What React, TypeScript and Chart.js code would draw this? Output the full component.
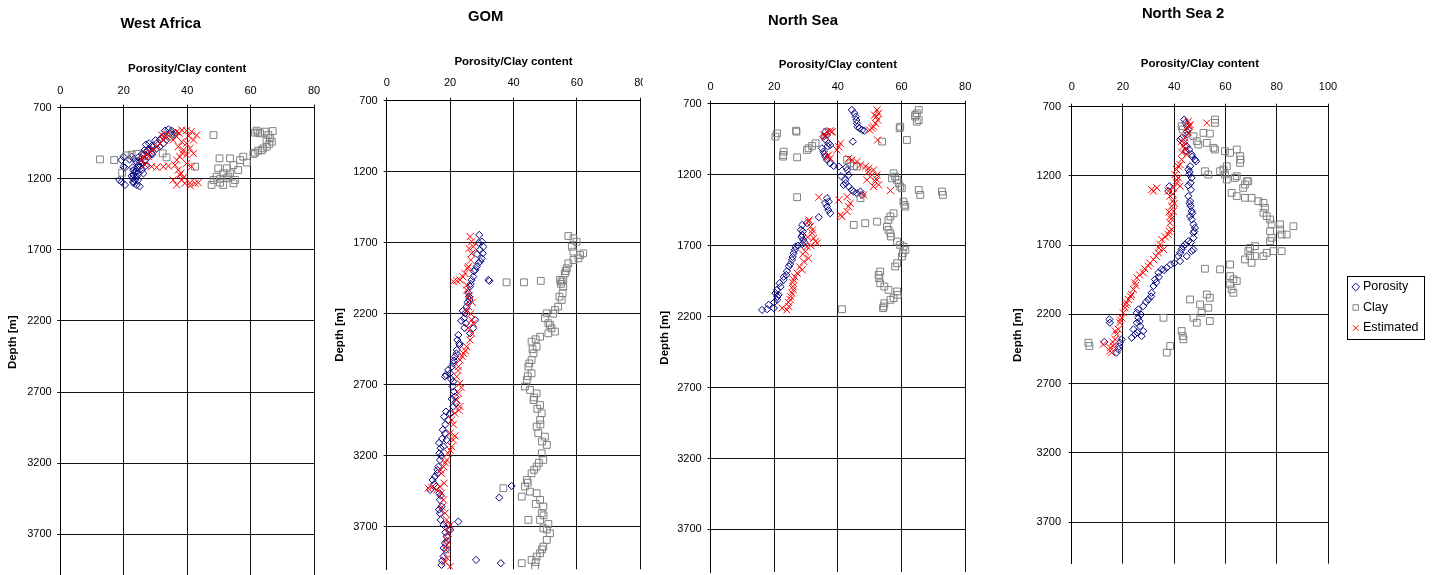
import React, { useEffect, useRef } from 'react';
import { Chart, registerables } from 'chart.js';

Chart.register(...registerables);
Chart.defaults.font.family = "'Liberation Sans', Arial, sans-serif";
Chart.defaults.color = '#000';

type Pt = [number, number]; // [porosity/clay %, depth m]

// ---------- text / ticks ----------
const CHART_TITLES = ['West Africa', 'GOM', 'North Sea', 'North Sea 2'];
const SERIES_NAMES = ['Porosity', 'Clay', 'Estimated'];
const X_AXIS_TITLE = 'Porosity/Clay content';
const Y_AXIS_TITLE = 'Depth [m]';
const X_TICKS_80 = [0, 20, 40, 60, 80];
const X_TICKS_100 = [0, 20, 40, 60, 80, 100];
const DEPTH_TICKS = [700, 1200, 1700, 2200, 2700, 3200, 3700];
const DEPTH_MIN = 700;
const DEPTH_MAX = 4000;

// ---------- West Africa ----------
const westAfricaPorosity: Pt[] = [
  [33.0, 862], [34.1, 853], [35.1, 862], [36.2, 876], [35.6, 893], [34.6, 881],
  [32.5, 905], [31.4, 928], [30.4, 952], [29.3, 975], [28.3, 991], [27.2, 1010], [26.2, 1033], [25.6, 1057],
  [25.1, 1080], [24.6, 1104], [24.1, 1127], [23.6, 1151], [23.1, 1174], [22.8, 1198], [23.1, 1221], [24.1, 1244],
  [33.5, 928], [32.5, 952], [31.4, 975], [30.4, 987], [28.8, 1022], [27.8, 1045], [26.7, 1069], [25.7, 1092],
  [25.1, 1116], [24.6, 1163], [24.1, 1186], [23.6, 1209],
  [19.9, 1045], [19.3, 1069], [19.9, 1116], [20.4, 1123], [19.3, 1221], [20.4, 1244], [18.6, 1209], [22.5, 1045],
  [21.8, 1064], [26.2, 1163], [25.7, 1139],
  [27.0, 960], [28.0, 950], [26.5, 1000], [24.5, 1050], [23.2, 1060], [29.0, 1030], [22.8, 1120], [27.0, 1110],
  [22.5, 1180], [24.5, 1210], [25.0, 1254], [31.8, 915], [30.0, 930], [28.8, 970], [27.6, 1000], [25.8, 1025],
  [24.0, 1080], [23.0, 1140], [24.0, 1150], [23.0, 1230],
];
const westAfricaClay: Pt[] = [
  [12.5, 1064], [17.0, 1069], [20.9, 1036], [22.5, 1031], [24.1, 1026], [19.5, 1158], [32.3, 1022], [33.5, 1050],
  [42.5, 1115], [48.3, 893], [35.6, 881], [34.6, 904],
  [61.9, 862], [63.0, 881], [64.5, 869], [67.0, 865], [65.6, 893], [66.1, 916], [66.7, 940], [65.9, 956],
  [65.1, 975], [64.0, 987], [62.4, 1003], [61.4, 1017], [60.9, 1026], [62.4, 876], [61.4, 876], [63.5, 1000], [65.0, 930],
  [50.2, 1057], [53.5, 1057], [57.7, 1045], [56.7, 1069], [58.8, 1087], [54.6, 1104], [52.5, 1127], [49.8, 1127],
  [56.1, 1139], [51.4, 1162], [53.5, 1162], [49.3, 1186], [48.3, 1209], [50.4, 1228], [47.7, 1244], [51.4, 1244],
  [54.6, 1233], [55.1, 1209], [52.5, 1197], [50.5, 1200], [53.0, 1185],
];
const westAfricaEstimated: Pt[] = [
  [26.2, 1045], [27.2, 1026], [28.3, 1010], [29.3, 994], [30.4, 975], [31.4, 952], [32.5, 928], [33.0, 904],
  [33.5, 886], [32.0, 893], [27.8, 1045], [25.7, 1069], [26.7, 1104], [28.8, 1115], [30.4, 1120], [32.5, 1115], [34.1, 1111],
  [36.7, 869], [38.3, 857], [39.8, 862], [41.4, 869], [43.0, 893], [42.0, 928], [39.8, 951], [38.3, 940],
  [36.7, 904], [35.6, 928], [37.2, 975], [38.8, 998], [40.9, 987], [42.0, 1022], [39.8, 1033], [37.7, 1045],
  [36.7, 1069], [36.2, 1104], [37.2, 1139], [37.7, 1174], [38.3, 1209], [39.3, 1233], [40.9, 1228], [42.5, 1233],
  [43.5, 1228], [36.7, 1244], [35.6, 1209], [41.4, 1115], [39.8, 1092], [38.0, 1160], [39.0, 1190], [41.0, 1250],
  [38.5, 1020], [40.5, 900], [37.5, 880],
];

// ---------- GOM ----------
const gomPorosity: Pt[] = [
  [29.2, 1645], [30.0, 1692], [30.5, 1728], [29.4, 1751], [30.3, 1775], [30.0, 1810], [28.9, 1845], [28.4, 1868],
  [27.9, 1892], [27.3, 1939], [26.8, 1962], [32.4, 1969], [32.1, 1962], [26.3, 2009], [25.8, 2056], [26.1, 2103],
  [25.2, 2150], [24.7, 2197], [24.4, 2232], [25.0, 2267], [27.9, 2244], [27.3, 2303], [26.3, 2338], [22.6, 2350],
  [22.3, 2385], [22.9, 2408], [22.1, 2455], [21.5, 2502], [21.0, 2549], [20.5, 2573], [19.4, 2596], [18.7, 2631],
  [18.4, 2643], [21.0, 2678], [20.8, 2713], [21.2, 2748], [21.5, 2784], [21.9, 2831], [21.0, 2854], [20.0, 2901],
  [18.7, 2889], [18.1, 2925], [17.7, 3018], [18.4, 3042], [18.9, 3089], [17.9, 3136], [17.0, 3147], [16.6, 3183],
  [16.8, 3230], [16.3, 3277], [16.0, 3324], [15.2, 3347], [14.5, 3371], [13.7, 3441], [15.6, 3417], [16.6, 3464],
  [16.8, 3511], [17.3, 3558], [16.8, 3605], [17.0, 3652], [17.9, 3687], [19.4, 3687], [22.6, 3664], [20.0, 3723],
  [18.9, 3769], [18.4, 3816], [18.7, 3863], [17.9, 3910], [17.3, 3969], [28.2, 3934], [36.0, 3957], [35.5, 3495], [39.4, 3413],
  [29.0, 1700], [28.5, 1780], [29.5, 1830], [27.5, 1900], [26.5, 1990], [26.0, 2080], [25.5, 2120], [24.0, 2180],
  [23.5, 2250], [24.5, 2300], [23.0, 2420], [22.0, 2480], [21.2, 2530], [20.0, 2620], [20.3, 2660], [20.5, 2800],
  [19.5, 2950], [18.5, 2980], [17.5, 3080], [16.5, 3110], [17.2, 3200], [16.0, 3300], [15.0, 3400], [17.0, 3480],
  [16.5, 3580], [18.5, 3740], [19.0, 3800], [18.0, 3850], [17.5, 3940],
];
const gomClay: Pt[] = [
  [57.3, 1653], [58.9, 1669], [59.9, 1693], [58.4, 1728], [58.9, 1763], [62.0, 1775], [61.0, 1787], [60.5, 1810],
  [58.9, 1822], [57.3, 1845], [56.8, 1880], [56.2, 1916], [55.7, 1962], [55.2, 1974], [54.7, 1962], [37.8, 1979],
  [43.3, 1979], [48.6, 1969], [55.7, 2009], [55.5, 2056], [55.2, 2103], [54.1, 2150], [53.1, 2174], [50.5, 2197],
  [49.9, 2232], [51.0, 2267], [52.0, 2303], [53.1, 2326], [51.0, 2338], [48.4, 2362], [45.7, 2397], [47.3, 2432],
  [46.3, 2479], [45.7, 2526], [44.7, 2573], [45.7, 2620], [44.2, 2667], [43.6, 2713], [45.2, 2737], [47.3, 2761],
  [46.3, 2808], [48.4, 2843], [48.9, 2901], [48.4, 2948], [47.3, 2995], [47.8, 3042], [49.9, 3066], [50.5, 3124],
  [48.9, 3183], [49.4, 3230], [47.3, 3277], [45.7, 3324], [44.2, 3371], [43.6, 3417], [45.2, 3453], [47.3, 3464],
  [48.4, 3511], [49.4, 3558], [48.9, 3605], [48.4, 3652], [51.0, 3681], [49.4, 3711], [51.5, 3746], [50.5, 3793],
  [49.4, 3840], [48.4, 3887], [47.3, 3910], [45.7, 3934], [42.6, 3957], [46.8, 3981], [36.8, 3429], [42.6, 3488], [44.7, 3652],
  [56.5, 1900], [55.0, 1990], [54.5, 2080], [52.5, 2200], [51.5, 2280], [47.0, 2380], [46.0, 2450], [45.0, 2550],
  [44.5, 2640], [46.5, 2790], [47.5, 2870], [48.5, 2980], [49.0, 3100], [48.0, 3250], [46.5, 3300], [44.5, 3390],
  [47.0, 3540], [49.5, 3620], [50.5, 3720], [49.0, 3860], [47.0, 3950],
];
const gomEstimated: Pt[] = [
  [26.3, 1657], [26.8, 1693], [27.3, 1728], [26.8, 1775], [26.5, 1822], [25.8, 1869], [24.7, 1916], [23.1, 1962],
  [21.0, 1974], [22.1, 1967], [25.2, 1998], [25.2, 2033], [26.3, 2103], [25.8, 2150], [25.2, 2186], [26.8, 2244],
  [27.3, 2267], [26.8, 2338], [26.3, 2385], [25.2, 2432], [24.2, 2479], [23.1, 2526], [22.6, 2573], [22.1, 2643],
  [23.1, 2690], [22.6, 2760], [22.1, 2807], [23.1, 2854], [21.5, 2901], [20.5, 2948], [20.0, 3042], [21.0, 3089],
  [20.5, 3136], [19.4, 3183], [18.9, 3230], [17.9, 3277], [17.3, 3324], [18.1, 3394], [16.8, 3417], [14.2, 3422],
  [13.1, 3429], [15.8, 3441], [17.3, 3464], [17.9, 3511], [18.4, 3605], [18.9, 3652], [20.0, 3687], [19.4, 3746],
  [18.9, 3793], [18.7, 3863], [19.1, 3922], [20.0, 3981],
  [26.0, 1740], [25.5, 1880], [24.0, 1940], [26.0, 2070], [27.0, 2120], [26.5, 2200], [25.8, 2300], [24.8, 2460],
  [23.8, 2500], [22.5, 2600], [23.5, 2720], [22.8, 2880], [21.0, 2980], [21.5, 3060], [20.0, 3160], [18.5, 3250],
  [17.0, 3300], [17.5, 3560], [19.5, 3700], [19.0, 3830], [18.5, 3950],
];

// ---------- North Sea ----------
const northSeaPorosity: Pt[] = [
  [44.4, 744], [45.2, 768], [45.6, 791], [45.8, 815], [46.0, 838], [46.2, 862], [46.8, 873], [47.6, 885], [48.3, 890],
  [36.1, 897], [36.6, 920], [35.5, 932], [37.1, 979], [37.6, 991], [35.0, 1014], [35.5, 1038], [36.1, 1073],
  [36.6, 1096], [37.6, 1120], [38.7, 1139], [40.3, 1143], [42.6, 1148], [42.9, 1167], [43.4, 1202], [42.3, 1237],
  [41.8, 1272], [43.4, 1284], [44.4, 1308], [46.0, 1331], [47.6, 1343], [47.1, 1319], [44.7, 967],
  [36.6, 1366], [37.1, 1390], [36.6, 1425], [37.6, 1472], [34.0, 1500], [30.3, 1542], [28.8, 1554], [28.4, 1589],
  [28.8, 1625], [29.1, 1660], [29.5, 1678], [26.7, 1707], [26.1, 1754], [25.6, 1801], [24.6, 1847], [23.8, 1906],
  [23.0, 1941], [21.7, 1965], [20.9, 2012], [20.4, 2035], [21.4, 2047], [20.9, 2082], [19.9, 2141], [18.3, 2117],
  [16.2, 2153], [17.8, 2148],
  [36.0, 950], [36.8, 1000], [35.8, 1055], [41.0, 1210], [42.5, 1260], [45.0, 1320], [36.0, 1400], [37.0, 1450],
  [29.0, 1600], [28.6, 1640], [28.8, 1690], [27.5, 1700], [26.5, 1730], [25.8, 1780], [25.0, 1830], [24.0, 1880],
  [23.0, 1920], [22.0, 1990], [21.0, 2060], [20.0, 2100],
];
const northSeaClay: Pt[] = [
  [65.4, 744], [64.8, 768], [64.3, 791], [65.4, 815], [64.8, 827], [64.3, 780], [59.6, 862], [59.4, 873],
  [61.7, 956], [53.9, 967], [20.9, 909], [20.4, 932], [26.9, 890], [27.0, 897], [23.0, 1038], [22.8, 1061],
  [22.8, 1073], [27.2, 1078], [30.8, 1014], [31.9, 998], [33.0, 979], [30.3, 1026], [42.9, 1096], [43.9, 1120],
  [45.0, 1139], [46.0, 1143], [57.5, 1190], [58.0, 1214], [57.0, 1226], [58.6, 1237], [59.1, 1261], [59.6, 1284],
  [60.1, 1296], [65.4, 1308], [65.9, 1343], [72.7, 1319], [73.0, 1343], [27.2, 1359], [47.1, 1366], [60.6, 1390],
  [60.9, 1413], [61.2, 1425], [57.5, 1472], [56.5, 1495], [55.9, 1519], [45.0, 1554], [48.6, 1542], [52.3, 1531],
  [55.4, 1566], [55.9, 1589], [56.5, 1613], [56.7, 1636], [58.6, 1671], [59.6, 1695], [60.6, 1707], [61.2, 1730],
  [60.4, 1754], [60.1, 1777], [58.6, 1824], [58.0, 1847], [53.3, 1883], [52.8, 1906], [53.0, 1930], [53.3, 1965],
  [54.6, 1988], [55.9, 2012], [58.6, 2023], [58.8, 2047], [57.5, 2070], [56.5, 2082], [54.6, 2106], [54.4, 2129],
  [54.2, 2141], [41.3, 2148],
];
const northSeaEstimated: Pt[] = [
  [52.3, 744], [52.8, 768], [52.1, 791], [52.5, 815], [51.8, 838], [51.2, 862], [50.7, 873], [52.5, 956],
  [36.6, 897], [37.6, 890], [38.2, 897], [35.5, 920], [36.1, 932], [40.8, 979], [40.3, 1003], [39.7, 1026],
  [37.1, 1061], [36.6, 1073], [37.6, 1085], [43.4, 1085], [44.4, 1096], [46.0, 1108], [47.1, 1132], [48.6, 1143],
  [49.7, 1155], [51.2, 1167], [52.3, 1202], [50.2, 1214], [49.1, 1237], [51.8, 1249], [52.8, 1272], [51.2, 1284],
  [56.5, 1312], [48.1, 1343], [42.9, 1355], [40.3, 1378], [34.0, 1359], [43.9, 1402], [43.4, 1425], [42.9, 1460],
  [40.8, 1484], [41.3, 1495], [30.8, 1531], [31.4, 1566], [31.9, 1613], [32.4, 1648], [33.5, 1683], [30.3, 1707],
  [29.8, 1742], [30.8, 1789], [29.3, 1812], [28.8, 1871], [27.2, 1894], [26.1, 1941], [25.9, 1988], [25.6, 2035],
  [25.1, 2082], [24.6, 2129], [24.0, 2153], [22.5, 2141],
  [31.0, 1520], [32.0, 1590], [30.5, 1640], [33.0, 1670], [31.5, 1700], [29.0, 1760], [28.0, 1850], [26.5, 1920],
  [25.8, 1960], [26.0, 2010], [25.2, 2060], [24.5, 2100], [51.5, 780], [50.0, 885], [49.5, 1180], [52.0, 1230], [38.0, 900],
];

// ---------- North Sea 2 ----------
const northSea2Porosity: Pt[] = [
  [43.9, 793], [44.3, 817], [44.9, 841], [45.5, 865], [45.1, 901], [42.9, 925], [42.3, 937], [43.6, 961],
  [44.9, 985], [45.9, 1009], [46.8, 1045], [48.1, 1082], [48.5, 1094], [46.2, 1130], [45.5, 1154], [45.9, 1190],
  [46.8, 1214], [46.4, 1250], [45.5, 1269], [38.1, 1274], [37.7, 1310], [45.5, 1346], [46.2, 1382], [46.4, 1418],
  [46.8, 1454], [46.2, 1490], [46.8, 1514], [47.5, 1550], [48.1, 1575], [47.5, 1611], [47.5, 1647], [45.5, 1671],
  [44.2, 1695], [42.9, 1731], [42.3, 1755], [41.6, 1779], [42.3, 1815], [44.9, 1779], [46.8, 1743], [47.5, 1731],
  [38.6, 1839], [37.1, 1863], [35.1, 1875], [33.8, 1899], [32.5, 1947], [31.9, 1995], [31.2, 2044], [29.9, 2092],
  [27.9, 2140], [26.0, 2164], [25.4, 2188], [26.0, 2224], [25.4, 2260], [24.1, 2308], [24.7, 2344], [27.3, 2356],
  [27.9, 2320], [26.7, 2284], [23.4, 2368], [18.8, 2404], [18.2, 2452], [17.5, 2476], [14.7, 2236], [14.9, 2260], [12.7, 2399],
  [45.0, 880], [44.5, 1020], [47.0, 1060], [46.0, 1170], [46.5, 1300], [46.0, 1400], [47.0, 1470], [47.8, 1600],
  [46.5, 1680], [43.5, 1710], [40.0, 1830], [36.0, 1880], [34.0, 1930], [33.0, 1970], [31.0, 2070], [29.0, 2110],
  [27.0, 2200], [26.5, 2250], [25.5, 2330], [19.5, 2380], [18.5, 2430],
];
const northSea2Clay: Pt[] = [
  [55.9, 793], [55.9, 817], [42.9, 841], [43.3, 865], [47.5, 913], [51.4, 889], [53.9, 894], [48.8, 949],
  [49.4, 973], [52.7, 961], [55.3, 997], [55.9, 1009], [59.8, 1021], [61.8, 1033], [64.4, 1009], [65.7, 1057],
  [65.9, 1082], [65.7, 1106], [60.5, 1130], [59.2, 1154], [59.8, 1190], [52.0, 1166], [53.3, 1190], [57.9, 1166],
  [64.4, 1202], [63.7, 1214], [60.5, 1226], [68.3, 1238], [67.6, 1262], [66.9, 1286], [68.9, 1238], [62.4, 1322],
  [64.4, 1346], [67.6, 1358], [70.2, 1358], [72.8, 1382], [74.8, 1394], [75.4, 1430], [74.8, 1466], [76.1, 1490],
  [77.4, 1514], [78.0, 1550], [81.3, 1550], [86.5, 1563], [81.3, 1587], [77.4, 1599], [81.9, 1623], [83.9, 1623],
  [78.0, 1647], [77.4, 1671], [78.7, 1743], [81.9, 1743], [76.1, 1755], [74.8, 1779], [71.5, 1707], [69.6, 1719],
  [68.9, 1743], [69.6, 1779], [71.5, 1779], [67.6, 1803], [70.2, 1827], [61.8, 1839], [57.9, 1875], [52.0, 1870],
  [61.8, 1923], [63.1, 1947], [64.4, 1959], [61.8, 1983], [62.4, 2019], [63.1, 2044], [52.7, 2056], [53.9, 2080],
  [46.2, 2092], [50.1, 2128], [53.3, 2152], [50.7, 2188], [47.5, 2224], [48.8, 2260], [53.9, 2248], [35.8, 2224],
  [42.9, 2320], [43.3, 2356], [43.6, 2380], [38.4, 2428], [37.1, 2476], [6.5, 2404], [6.9, 2428],
];
const northSea2Estimated: Pt[] = [
  [45.5, 805], [46.2, 829], [44.9, 853], [45.5, 889], [44.2, 925], [42.9, 949], [43.6, 985], [44.2, 1009],
  [44.9, 1045], [42.9, 1082], [42.3, 1118], [40.9, 1154], [40.3, 1190], [41.6, 1214], [40.9, 1250], [42.3, 1274],
  [39.7, 1286], [37.7, 1310], [33.2, 1286], [31.9, 1310], [31.2, 1298], [38.4, 1346], [39.4, 1382], [39.0, 1418],
  [39.7, 1454], [38.6, 1490], [38.4, 1538], [39.0, 1587], [37.7, 1623], [35.1, 1659], [34.5, 1695], [35.8, 1731],
  [33.8, 1755], [31.9, 1803], [29.9, 1851], [27.9, 1899], [25.4, 1935], [24.7, 1971], [24.1, 2019], [23.4, 2056],
  [22.1, 2092], [21.4, 2116], [20.8, 2152], [20.1, 2188], [19.5, 2224], [18.8, 2260], [18.2, 2308], [17.5, 2344],
  [16.9, 2380], [16.2, 2428], [14.9, 2464], [12.3, 2416], [15.6, 2476], [52.7, 817],
  [46.0, 840], [44.0, 960], [43.0, 1030], [41.5, 1130], [41.0, 1230], [39.5, 1330], [40.0, 1400], [38.0, 1460],
  [38.8, 1510], [38.0, 1600], [36.5, 1640], [34.0, 1720], [33.0, 1780], [30.5, 1830], [28.5, 1870], [26.5, 1915],
  [25.0, 1990], [23.0, 2070], [21.0, 2130], [19.0, 2240], [17.0, 2320], [16.0, 2400], [15.0, 2440],
];

// ---------- styling / layout (not data) ----------
const CANVAS_H = 600;
const TICK_LEN = 3;
const TICK_FONT = 11;
const AXIS_TITLE_FONT = 11.5;
const HALF_TICK_LH = TICK_FONT * 1.2 / 2;
const HALF_TITLE_LH = AXIS_TITLE_FONT * 1.2 / 2;
const LEGEND_PAD_RIGHT = 6.45;
const GRID_COLOR = '#111';

const SERIES_STYLES = [
  { pointStyle: 'rectRot', color: '#000080', radius: 3.6, order: 2 },
  { pointStyle: 'rect', color: '#808080', radius: 4.8, order: 1 },
  { pointStyle: 'crossRot', color: '#ff0000', radius: 5, order: 0 },
];

type PanelCfg = {
  left: number; width: number; clip: number;
  plotLeft: number; plotRight: number; plotTop: number; plotBottom: number;
  padTop: number; xTitleY: number; xLabelY: number; yLabelRight: number; yTitleX: number;
  xMax: number; xTicks: number[]; titleX: number; titleY: number; legend: boolean;
  series: Pt[][];
};

const PANELS: PanelCfg[] = [
  { left: 0, width: 330, clip: 330, plotLeft: 60.3, plotRight: 314, plotTop: 107.6, plotBottom: 576.9,
    padTop: 62.4, xTitleY: 69.3, xLabelY: 90.7, yLabelRight: 51.7, yTitleX: 13.3,
    xMax: 80, xTicks: X_TICKS_80, titleX: 160.7, titleY: 22.7, legend: false,
    series: [westAfricaPorosity, westAfricaClay, westAfricaEstimated] },
  { left: 325, width: 340, clip: 318, plotLeft: 386.7, plotRight: 640.3, plotTop: 100.7, plotBottom: 569.3,
    padTop: 54.8, xTitleY: 61.7, xLabelY: 83.3, yLabelRight: 377.7, yTitleX: 340,
    xMax: 80, xTicks: X_TICKS_80, titleX: 485.7, titleY: 16, legend: false,
    series: [gomPorosity, gomClay, gomEstimated] },
  { left: 650, width: 340, clip: 340, plotLeft: 710.5, plotRight: 965.2, plotTop: 103.7, plotBottom: 572,
    padTop: 58.1, xTitleY: 65, xLabelY: 86.7, yLabelRight: 701.7, yTitleX: 665,
    xMax: 80, xTicks: X_TICKS_80, titleX: 803, titleY: 20, legend: false,
    series: [northSeaPorosity, northSeaClay, northSeaEstimated] },
  { left: 1005, width: 430, clip: 430, plotLeft: 1071.7, plotRight: 1328, plotTop: 106.7, plotBottom: 563.7,
    padTop: 51.3, xTitleY: 64, xLabelY: 86.7, yLabelRight: 1061, yTitleX: 1018.3,
    xMax: 100, xTicks: X_TICKS_100, titleX: 1183, titleY: 13, legend: true,
    series: [northSea2Porosity, northSea2Clay, northSea2Estimated] },
];

const legendBorderPlugin = {
  id: 'legendBorder',
  afterDraw(chart: any) {
    const lg = chart.legend;
    if (!lg || !lg.options.display || !lg.legendHitBoxes || !lg.legendHitBoxes.length) return;
    const hb = lg.legendHitBoxes;
    const first = hb[0];
    const last = hb[hb.length - 1];
    const top = Math.round(first.top - 4.5) + 0.5;
    const bottom = Math.round(last.top + last.height + 4.5) + 0.5;
    const left = Math.round(lg.left) + 0.5;
    const right = Math.round(lg.right - 4.5) + 0.5;
    const ctx = chart.ctx;
    ctx.save();
    ctx.strokeStyle = '#000';
    ctx.lineWidth = 1;
    ctx.strokeRect(left, top, right - left, bottom - top);
    ctx.restore();
  },
};

function buildConfig(cfg: PanelCfg): any {
  const xTitlePad = cfg.xTitleY - HALF_TITLE_LH - cfg.padTop;
  const xH = cfg.plotTop - cfg.padTop;
  const xTickPad = cfg.plotTop - cfg.xLabelY - TICK_LEN - HALF_TICK_LH;
  const yW = cfg.plotLeft - cfg.left;
  const yTickPad = cfg.plotLeft - cfg.yLabelRight - TICK_LEN;
  const yTitlePad = cfg.yTitleX - cfg.left - HALF_TITLE_LH;
  const padBottom = CANVAS_H - cfg.plotBottom;
  const padRight = cfg.legend ? LEGEND_PAD_RIGHT : cfg.left + cfg.width - cfg.plotRight;
  const localPlotRight = cfg.plotRight - cfg.left;

  const datasets = SERIES_NAMES.map((name, i) => ({
    label: name,
    data: cfg.series[i].map(([x, y]) => ({ x, y })),
    pointStyle: SERIES_STYLES[i].pointStyle,
    pointRadius: SERIES_STYLES[i].radius,
    pointHoverRadius: SERIES_STYLES[i].radius,
    borderColor: SERIES_STYLES[i].color,
    backgroundColor: 'rgba(0,0,0,0)',
    pointBorderWidth: 1,
    borderWidth: 1,
    order: SERIES_STYLES[i].order,
  }));

  const scales: any = {
    x: {
      type: 'linear',
      position: 'top',
      min: 0,
      max: cfg.xMax,
      afterBuildTicks: (s: any) => { s.ticks = cfg.xTicks.map((v) => ({ value: v })); },
      afterFit: (s: any) => { s.height = xH; },
      grid: { color: GRID_COLOR, lineWidth: 1, drawTicks: true, tickLength: TICK_LEN, tickColor: GRID_COLOR },
      border: { display: true, color: '#000', width: 1 },
      ticks: { font: { size: TICK_FONT }, color: '#000', padding: xTickPad, maxRotation: 0, autoSkip: false,
        callback: (v: any) => String(v) },
      title: { display: true, text: X_AXIS_TITLE, color: '#000', font: { size: AXIS_TITLE_FONT, weight: 'bold' },
        padding: { top: xTitlePad, bottom: 0 } },
    },
    y: {
      type: 'linear',
      position: 'left',
      reverse: true,
      min: DEPTH_MIN,
      max: DEPTH_MAX,
      afterBuildTicks: (s: any) => { s.ticks = DEPTH_TICKS.map((v) => ({ value: v })); },
      afterFit: (s: any) => { s.width = yW; },
      grid: { color: GRID_COLOR, lineWidth: 1, drawTicks: true, tickLength: TICK_LEN, tickColor: GRID_COLOR },
      border: { display: true, color: '#000', width: 1 },
      ticks: { font: { size: TICK_FONT }, color: '#000', padding: yTickPad, autoSkip: false,
        callback: (v: any) => String(v) },
      title: { display: true, text: Y_AXIS_TITLE, color: '#000', font: { size: AXIS_TITLE_FONT, weight: 'bold' },
        padding: { top: yTitlePad, bottom: 0 } },
    },
  };
  if (cfg.legend) {
    scales.gap = {
      type: 'linear',
      axis: 'y',
      position: 'right',
      display: true,
      grid: { display: false },
      border: { display: false },
      ticks: { display: false },
      title: { display: false },
      afterFit: (s: any) => {
        const lg = s.chart.legend;
        const lw = lg && lg.width ? lg.width : 82;
        s.width = Math.max(0, cfg.width - padRight - lw - localPlotRight);
      },
    };
  }

  return {
    type: 'scatter',
    data: { datasets },
    options: {
      animation: false,
      responsive: false,
      maintainAspectRatio: false,
      devicePixelRatio: 1,
      events: [],
      layout: { padding: { left: 0, top: cfg.padTop, right: padRight, bottom: padBottom } },
      scales,
      plugins: {
        title: { display: false },
        tooltip: { enabled: false },
        legend: {
          display: cfg.legend,
          position: 'right',
          align: 'center',
          maxWidth: 160,
          labels: {
            usePointStyle: true,
            boxWidth: 2,
            boxHeight: 5.5,
            padding: 8,
            color: '#000',
            font: { size: 12.5 },
            sort: (a: any, b: any) => a.datasetIndex - b.datasetIndex,
          },
        },
      },
    },
    plugins: cfg.legend ? [legendBorderPlugin] : [],
  };
}

function Panel({ cfg }: { cfg: PanelCfg }) {
  const ref = useRef<HTMLCanvasElement>(null);
  useEffect(() => {
    if (!ref.current) return;
    const chart = new Chart(ref.current, buildConfig(cfg));
    return () => chart.destroy();
  }, [cfg]);
  return (
    <div style={{ position: 'absolute', left: cfg.left, top: 0, width: cfg.clip, height: CANVAS_H, overflow: 'hidden' }}>
      <canvas ref={ref} width={cfg.width} height={CANVAS_H}
        style={{ display: 'block', width: cfg.width, height: CANVAS_H }} />
    </div>
  );
}

export default function App() {
  return (
    <div style={{ position: 'fixed', left: 0, top: 0, width: 1435, height: 575, overflow: 'hidden', background: '#fff' }}>
      {PANELS.map((p, i) => <Panel key={i} cfg={p} />)}
      {PANELS.map((p, i) => (
        <div key={'t' + i} style={{
          position: 'absolute', left: p.titleX, top: p.titleY, transform: 'translate(-50%, -50%)',
          font: "bold 14.8px 'Liberation Sans', Arial, sans-serif", color: '#000', whiteSpace: 'nowrap', lineHeight: '17px',
        }}>{CHART_TITLES[i]}</div>
      ))}
    </div>
  );
}
